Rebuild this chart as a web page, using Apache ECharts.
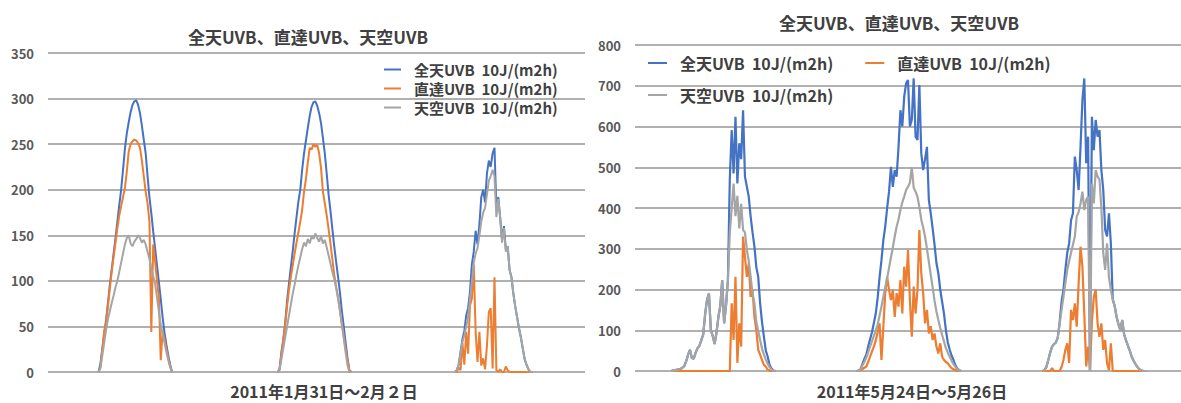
<!DOCTYPE html>
<html>
<head>
<meta charset="utf-8">
<script src="https://cdn.jsdelivr.net/npm/echarts@6/dist/echarts.min.js"></script>
<style>
  html, body { margin: 0; padding: 0; background: #fff; }
  #chart { width: 1181px; height: 403px; }
</style>
</head>
<body>
<div id="chart"></div>
<script>
// 15分刻みで読み取った値 (単位 10J/(m2h))
const STEP = 0.25; // 時間
const seriesNames = ['全天UVB  10J/(m2h)', '直達UVB  10J/(m2h)', '天空UVB  10J/(m2h)'];
const chartTitle = '全天UVB、直達UVB、天空UVB';
const janLabel = '2011年1月31日～2月２日';
const mayLabel = '2011年5月24日～5月26日';

// 1月31日～2月2日：各日の開始時刻 (1/31 0:00 からの時間)
const janDayStarts = [7.5, 31.25, 54.75];
const janGlobal = [
  [0,9,25,41,57,76,96,113,130,147,165,183,200,222,245,262,274,285,293,297,298,293,284,270,255,240,215,192,174,154,136,117,99,80,60,43,30,18,8,0],
  [0,3,22,36,54,78,97,115,133,152,170,187,200,222,240,254,268,281,291,296,297,292,284,273,257,240,218,195,177,157,138,121,105,88,68,51,33,16,2,0],
  [0,2,8,22,36,45,62,70,88,118,132,155,140,162,192,200,186,218,232,225,240,246,180,192,170,145,160,135,138,112,104,86,72,60,48,38,26,14,8,3,0,0]
];
const janDirect = [
  [0,5,25,45,55,72,92,110,126,142,158,172,182,192,202,220,242,250,253,255,254,251,246,232,215,198,185,165,44,140,122,100,82,13,45,36,25,15,6,0],
  [0,3,20,35,52,72,90,104,117,130,142,153,165,178,198,212,230,246,244,250,247,249,240,224,198,185,172,157,141,124,107,94,82,68,52,40,26,14,2,0],
  [0,0,5,2,32,8,44,20,73,80,118,44,11,44,7,15,3,29,66,70,4,104,2,0,3,0,0,6,2,0,0,0,0,0,0,0,0,0,0,0,0,0]
];
const janDiffuse = [
  [0,4,18,32,46,58,67,76,84,93,100,110,120,130,140,147,150,141,138,143,146,150,147,142,145,140,132,124,114,105,97,82,66,52,42,32,22,13,5,0],
  [0,2,14,26,38,50,62,74,86,96,107,117,126,135,142,138,146,141,149,146,152,147,143,149,141,145,137,128,119,110,102,92,81,68,54,38,22,8,0,0],
  [0,2,8,20,33,40,50,60,80,99,120,130,136,150,165,175,180,195,210,215,222,215,170,190,170,142,158,132,138,112,104,86,72,60,48,38,26,14,8,3,0,0]
];

// 5月24日～5月26日：各日の開始時刻 (5/24 0:00 からの時間)
const mayDayStarts = [4.75, 29.25, 53.75];
const mayGlobal = [
  [0,1,2,3,4,5,8,12,24,40,52,32,30,45,56,62,76,90,140,175,190,100,86,66,95,133,160,223,117,160,223,470,591,485,624,460,559,520,640,477,452,428,379,340,305,255,231,166,120,84,50,35,15,6,1,0],
  [0,1,5,18,30,40,60,78,95,118,141,180,230,272,321,355,400,440,501,452,493,477,550,640,600,673,706,714,600,616,718,575,567,702,534,493,520,550,420,387,350,310,265,240,200,170,140,100,70,52,38,27,14,6,2,0],
  [0,2,10,27,45,60,66,70,82,120,170,199,248,290,313,370,387,526,493,444,550,665,718,510,575,0,624,542,616,575,591,493,444,346,330,387,313,175,160,133,115,100,125,90,75,62,50,35,25,17,10,4,2,0,0,0]
];
const mayDirect = [
  [0,0,0,0,0,0,0,0,0,0,0,0,0,0,0,0,0,0,0,0,0,0,0,0,0,0,0,0,0,0,0,0,166,76,231,20,117,60,330,280,231,264,182,199,133,100,52,40,27,15,11,3,1,0,0,0],
  [0,0,2,5,8,11,22,35,48,60,75,95,117,27,109,191,231,199,174,199,133,191,158,223,141,256,207,297,174,84,207,141,199,346,240,191,117,150,92,110,76,92,60,43,68,35,27,22,19,12,7,4,3,0,0,0],
  [0,0,0,0,0,7,0,0,0,0,10,27,52,68,20,150,125,166,109,215,305,256,140,11,60,2,120,182,199,117,84,117,52,76,19,2,68,0,0,0,0,0,0,0,0,0,0,0,0,0,0,0,0,0,0,0]
];
const mayDiffuse = [
  [0,1,2,3,4,5,8,12,24,40,52,32,30,45,56,62,76,90,140,175,190,100,86,66,95,133,160,223,117,160,223,338,400,460,380,430,350,410,346,340,297,270,231,190,166,120,98,76,55,40,28,18,9,4,1,0],
  [0,1,4,14,22,33,46,60,73,86,99,114,136,158,182,205,228,253,279,303,330,354,372,395,414,428,444,452,462,500,450,440,428,402,372,352,330,300,268,236,206,172,146,125,106,88,72,56,45,35,25,17,10,5,2,0],
  [0,2,10,27,45,60,66,70,82,115,150,182,215,248,270,290,310,330,379,390,411,440,395,420,428,0,460,411,493,477,470,400,290,248,313,230,200,175,160,133,115,100,125,90,75,62,50,35,25,17,10,4,2,0,0,0]
];

const janTicks = { min: 0, max: 350, interval: 50 };
const mayTicks = { min: 0, max: 800, interval: 100 };

const FONT = '"Noto Sans CJK JP", "Noto Sans", sans-serif';
const colors = ['#4472C4', '#ED7D31', '#A5A5A5'];

// 日ごとの値を [時間, 値] に並べ、夜の間は線を切る
function toPoints(dayStarts, days) {
  const pts = [];
  days.forEach((vals, d) => {
    if (d > 0) pts.push([dayStarts[d] - 1, null]);
    vals.forEach((v, i) => pts.push([dayStarts[d] + i * STEP, v]));
  });
  return pts;
}

function lineSeries(k, gridIdx, data, width) {
  return {
    name: seriesNames[k],
    type: 'line',
    xAxisIndex: gridIdx,
    yAxisIndex: gridIdx,
    data: data,
    showSymbol: false,
    connectNulls: false,
    itemStyle: { color: colors[k] },
    lineStyle: { color: colors[k], width: width },
    z: 2 + k
  };
}

function yAxis(gridIdx, ticks) {
  return {
    gridIndex: gridIdx,
    type: 'value',
    min: ticks.min,
    max: ticks.max,
    interval: ticks.interval,
    axisLine: { show: false },
    axisTick: { show: false },
    axisLabel: { margin: 14, color: '#595959', fontSize: 13, fontWeight: 'bold', fontFamily: FONT },
    splitLine: { lineStyle: { color: '#B0B0B0', width: 2 } }
  };
}

function label(text, x, y, size) {
  return {
    type: 'text',
    x: x,
    y: y,
    style: {
      text: text,
      align: 'center', verticalAlign: 'middle',
      textAlign: 'center', textVerticalAlign: 'middle',
      fontSize: size, fontWeight: 'bold', fontFamily: FONT,
      fill: '#404040'
    }
  };
}

const legendText = { color: '#404040', fontWeight: 'bold', fontFamily: FONT };

const chart = echarts.init(document.getElementById('chart'), null, { renderer: 'svg' });
chart.setOption({
  animation: false,
  backgroundColor: '#fff',
  grid: [
    { left: 48, right: 596, top: 53, bottom: 31 },
    { left: 635, right: 0, top: 45, bottom: 32 }
  ],
  xAxis: [
    { gridIndex: 0, type: 'value', min: 0.8, max: 72, show: false },
    { gridIndex: 1, type: 'value', min: 0, max: 72, show: false }
  ],
  yAxis: [yAxis(0, janTicks), yAxis(1, mayTicks)],
  legend: [
    {
      orient: 'vertical', left: 384, top: 62, itemGap: 4, padding: 0,
      icon: 'rect', itemWidth: 17, itemHeight: 2,
      data: seriesNames,
      textStyle: Object.assign({ fontSize: 15, padding: [0, 0, 0, 8] }, legendText)
    },
    {
      orient: 'horizontal', left: 648, top: 55, itemGap: 32, padding: 0,
      icon: 'rect', itemWidth: 19, itemHeight: 2,
      data: seriesNames.slice(0, 2),
      textStyle: Object.assign({ fontSize: 16, padding: [0, 0, 0, 8] }, legendText)
    },
    {
      orient: 'horizontal', left: 648, top: 87, padding: 0,
      icon: 'rect', itemWidth: 19, itemHeight: 2,
      data: seriesNames.slice(2),
      textStyle: Object.assign({ fontSize: 16, padding: [0, 0, 0, 8] }, legendText)
    }
  ],
  graphic: [
    label(chartTitle, 308, 36, 17),
    label(janLabel, 324, 391, 16),
    label(chartTitle, 899, 22, 17),
    label(mayLabel, 912, 391, 16)
  ],
  series: [
    lineSeries(0, 0, toPoints(janDayStarts, janGlobal), 2),
    lineSeries(1, 0, toPoints(janDayStarts, janDirect), 2),
    lineSeries(2, 0, toPoints(janDayStarts, janDiffuse), 2),
    lineSeries(0, 1, toPoints(mayDayStarts, mayGlobal), 2.2),
    lineSeries(1, 1, toPoints(mayDayStarts, mayDirect), 2.2),
    lineSeries(2, 1, toPoints(mayDayStarts, mayDiffuse), 2.2)
  ]
});
</script>
</body>
</html>
